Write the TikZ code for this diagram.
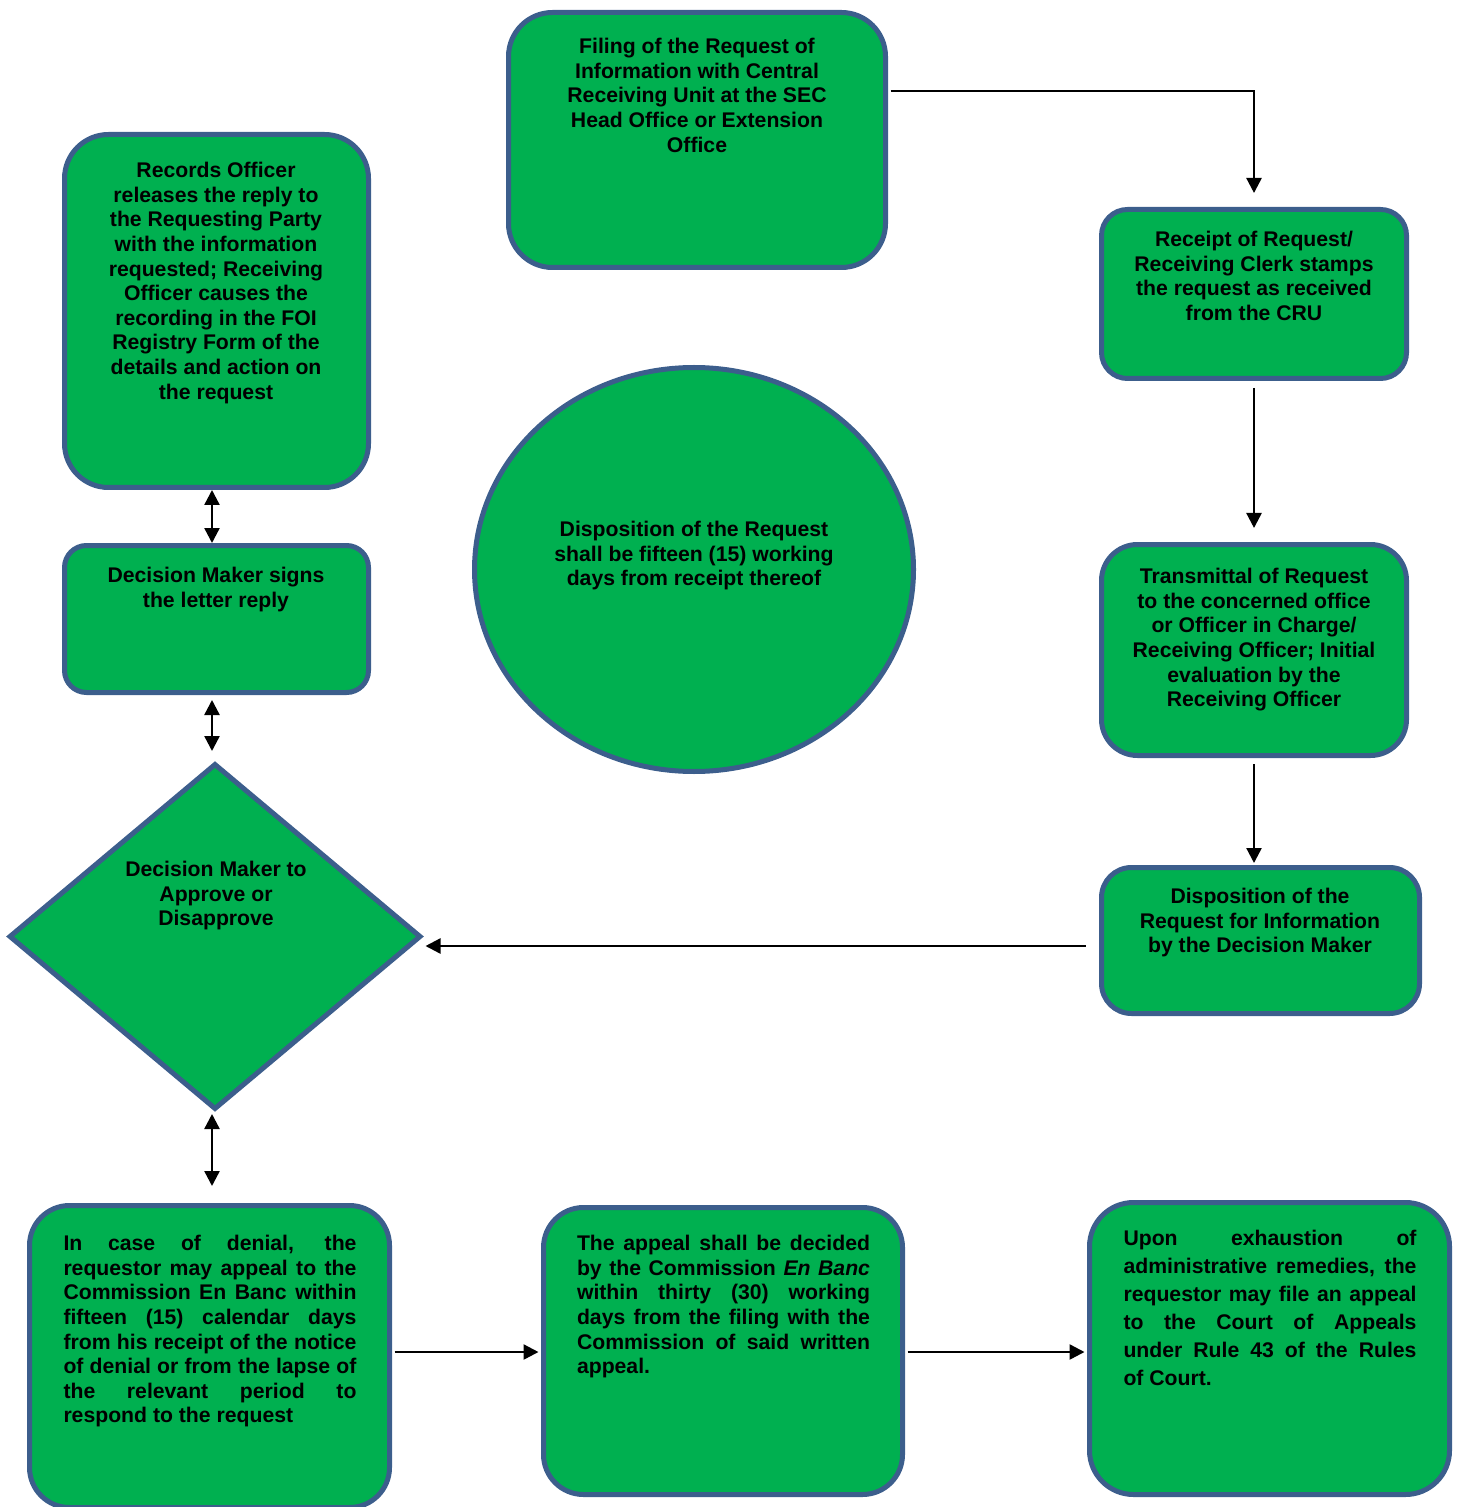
\documentclass[tikz,border=0pt]{standalone}
\usepackage{fontspec}
\setmainfont{Liberation Sans}
\usetikzlibrary{arrows.meta,shapes.geometric,calc}
\definecolor{sgreen}{HTML}{00B050}
\definecolor{sblue}{HTML}{3C5E8C}
\newcommand{\justsetup}{\tolerance=10000\relax\hyphenpenalty=10000\relax}
\begin{document}
\begin{tikzpicture}[x=0.5pt,y=-0.5pt,
  box/.style={draw=sblue, fill=sgreen, line width=2.5pt, inner sep=0pt, rectangle},
  txt/.style={inner sep=0pt, anchor=north, align=center, font=\fontsize{10.6}{12.3}\selectfont\bfseries},
  jtxt/.style={inner sep=0pt, anchor=north, text width=146.5pt, align=justify,
     font=\fontsize{10.6}{12.3}\selectfont\bfseries},
  arr/.style={line width=1.2pt, -{Triangle[length=7.5pt,width=7.5pt]}},
  darr/.style={line width=1.2pt, {Triangle[length=7.5pt,width=7.5pt]}-{Triangle[length=7.5pt,width=7.5pt]}}]
\useasboundingbox (0,0) rectangle (1458,1507);

% boxes
\node[box, rounded corners=22pt, minimum width=188.5pt, minimum height=127.5pt] (filing) at (697,140) {};
\node[box, rounded corners=22pt, minimum width=152pt, minimum height=176.5pt] (records) at (216.5,311) {};
\node[box, rounded corners=13pt, minimum width=152.5pt, minimum height=84.5pt] (receipt) at (1254,294) {};
\node[box, ellipse, minimum width=219.5pt, minimum height=202pt] (circ) at (694,569.5) {};
\node[box, rounded corners=11pt, minimum width=152pt, minimum height=73.5pt] (signs) at (216.5,619) {};
\node[box, rounded corners=18pt, minimum width=152.5pt, minimum height=105.5pt] (trans) at (1254,650) {};
\node[box, diamond, minimum width=206pt, minimum height=173pt] (dia) at (215,936.5) {};
\node[box, rounded corners=15pt, minimum width=159pt, minimum height=73pt] (disp) at (1260.5,940.5) {};
\node[box, rounded corners=20pt, minimum width=180pt, minimum height=151pt] (denial) at (209.5,1356.5) {};
\node[box, rounded corners=20pt, minimum width=179.5pt, minimum height=143.5pt] (appeal) at (723,1351) {};
\node[box, rounded corners=22pt, minimum width=180pt, minimum height=146pt] (upon) at (1269.5,1348.5) {};

% texts
\node[txt] (filingT) at (697,38) {Filing of the Request of\\Information with Central\\Receiving Unit at the SEC\\Head Office or Extension\\Office};
\node[txt] (recordsT) at (216,162) {Records Officer\\releases the reply to\\the Requesting Party\\with the information\\requested; Receiving\\Officer causes the\\recording in the FOI\\Registry Form of the\\details and action on\\the request};
\node[txt] (receiptT) at (1254,231) {Receipt of Request/\\Receiving Clerk stamps\\the request as received\\from the CRU};
\node[txt] (circT) at (694,521) {Disposition of the Request\\shall be fifteen (15) working\\days from receipt thereof};
\node[txt] (signsT) at (216,567) {Decision Maker signs\\the letter reply};
\node[txt] (transT) at (1254,568) {Transmittal of Request\\to the concerned office\\or Officer in Charge/\\Receiving Officer; Initial\\evaluation by the\\Receiving Officer};
\node[txt] (diaT) at (216,861) {Decision Maker to\\Approve or\\Disapprove};
\node[txt] (dispT) at (1260,888) {Disposition of the\\Request for Information\\by the Decision Maker};
\node[jtxt] (denialT) at (210,1235) {\justsetup In case of denial, the\linebreak requestor may appeal to the\linebreak Commission En Banc within\linebreak fifteen (15) calendar days\linebreak from his receipt of the notice\linebreak of denial or from the lapse of\linebreak the relevant period to\linebreak respond to the request};
\node[jtxt] (appealT) at (723.5,1235) {\justsetup The appeal shall be decided\linebreak by the Commission \textit{En Banc}\linebreak within thirty (30) working\linebreak days from the filing with the\linebreak Commission of said written\linebreak appeal.};
\node[jtxt, font=\fontsize{10.6}{14}\selectfont\bfseries] (uponT) at (1270,1230) {\justsetup Upon exhaustion of\linebreak administrative remedies, the\linebreak requestor may file an appeal\linebreak to the Court of Appeals\linebreak under Rule 43 of the Rules\linebreak of Court.};

% connectors
\draw[arr] ($(filing.east)+(2.5,-49)$) -| ([yshift=7pt]receipt.north);
\draw[arr] ([yshift=-3.5pt]receipt.south) -- ([yshift=7pt]trans.north);
\draw[arr] ([yshift=-3pt]trans.south) -- ([yshift=1pt]trans.south |- disp.north);
\draw[arr] ($(disp.west)+(-13.5,5.5)$) -- ($(disp.west -| dia.east)+(2,5.5)$);
\draw[darr] ([xshift=-2.25pt]records.south) -- ([xshift=-2.25pt]signs.north);
\draw[darr] ([xshift=-2.25pt,yshift=-2.5pt]signs.south) -- ([xshift=-1.5pt,yshift=5pt]dia.north);
\draw[darr] ([xshift=-1.5pt,yshift=-1pt]dia.south) -- ([xshift=1.25pt,yshift=8.5pt]denial.north);
\draw[arr] ($(denial.east)+(2.5,-4.5)$) -- ($(denial.east -| appeal.west)+(-2.5,-4.5)$);
\draw[arr] ($(appeal.east |- 0,1352)+(2.5,0)$) -- ($(upon.west |- 0,1352)+(-2.5,0)$);
\end{tikzpicture}
\end{document}
